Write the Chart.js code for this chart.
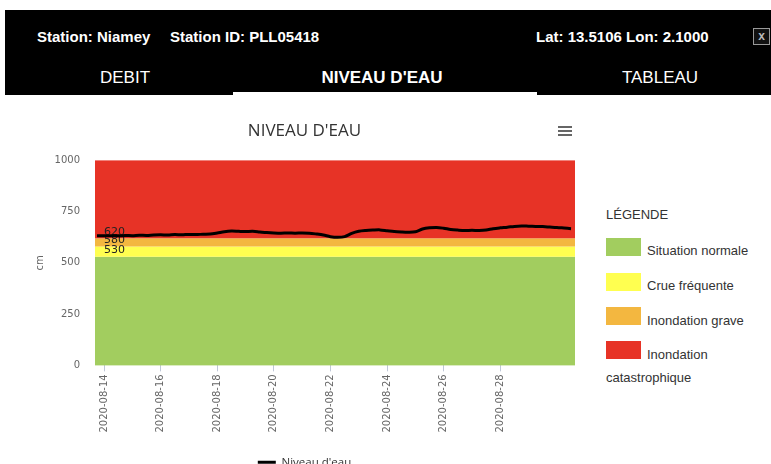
<!DOCTYPE html>
<html>
<head>
<meta charset="utf-8">
<script src="https://cdn.jsdelivr.net/npm/chart.js@4"></script>
<style>
  body { margin: 0; width: 771px; height: 464px; overflow: hidden; background: #fff; font-family: "Liberation Sans", Arial, sans-serif; }
  .bar { position: absolute; left: 5px; top: 10px; width: 766px; height: 85px; background: #000; }
  .hd { position: absolute; top: 28px; color: #fff; font-weight: bold; font-size: 15px; }
  .tab { position: absolute; top: 68px; color: #fff; font-size: 17px; transform: translateX(-50%); white-space: nowrap; }
  .active { position: absolute; left: 233px; top: 92px; width: 304px; height: 4px; background: #fff; }
  .close { position: absolute; left: 753px; top: 28px; width: 15px; height: 15px; border: 1px solid #999; color: #bbb; background: #111; font-size: 12px; font-weight: bold; line-height: 15px; text-align: center; }
  .menu { position: absolute; left: 558px; width: 14px; height: 2px; background: #666; }
  #wrap { position: absolute; left: 0; top: 100px; width: 604px; height: 378px; }
  .leg { position: absolute; left: 606px; color: #333; font-size: 13px; }
  .sw { position: absolute; left: 606px; width: 35px; height: 18px; }
</style>
</head>
<body>
<div class="bar"></div>
<div class="hd" style="left:37px">Station: Niamey</div>
<div class="hd" style="left:170px">Station ID: PLL05418</div>
<div class="hd" style="left:536px">Lat: 13.5106 Lon: 2.1000</div>
<div class="close">x</div>
<div class="tab" style="left:125px">DEBIT</div>
<div class="tab" style="left:382px;font-weight:bold">NIVEAU D'EAU</div>
<div class="tab" style="left:660px">TABLEAU</div>
<div class="active"></div>

<div class="menu" style="top:126px"></div>
<div class="menu" style="top:130px"></div>
<div class="menu" style="top:134px"></div>

<div id="wrap"><canvas id="myChart"></canvas></div>

<div class="leg" style="top:207px">LÉGENDE</div>
<div class="sw" style="top:238px;background:#a2cd5f"></div>
<div class="leg" style="top:243px;left:647px">Situation normale</div>
<div class="sw" style="top:273px;background:#ffff50"></div>
<div class="leg" style="top:278px;left:647px">Crue fréquente</div>
<div class="sw" style="top:307px;background:#f3b740"></div>
<div class="leg" style="top:313px;left:647px">Inondation grave</div>
<div class="sw" style="top:341px;background:#e73326"></div>
<div class="leg" style="top:347px;left:647px">Inondation</div>
<div class="leg" style="top:370px">catastrophique</div>

<script>
// days since 2020-08-14 00:00, one reading every 6 hours
const dayOffsets = [-0.25, 0, 0.25, 0.5, 0.75, 1, 1.25, 1.5, 1.75, 2, 2.25, 2.5, 2.75, 3, 3.25, 3.5, 3.75,
  4, 4.25, 4.5, 4.75, 5, 5.25, 5.5, 5.75, 6, 6.25, 6.5, 6.75, 7, 7.25, 7.5, 7.75,
  8, 8.25, 8.5, 8.75, 9, 9.25, 9.5, 9.75, 10, 10.25, 10.5, 10.75, 11, 11.25, 11.5, 11.75,
  12, 12.25, 12.5, 12.75, 13, 13.25, 13.5, 13.75, 14, 14.25, 14.5, 14.75, 15, 15.25, 15.5, 15.75,
  16, 16.25, 16.5];
const niveau = [632, 632, 633, 632, 634, 633, 635, 634, 636, 637, 636, 638, 637, 639, 638, 640, 641,
  646, 652, 655, 654, 653, 654, 651, 648, 646, 645, 646, 645, 646, 645, 641, 636,
  628, 625, 628, 644, 654, 658, 660, 661, 657, 653, 651, 650, 652, 665, 671, 673,
  669, 663, 660, 658, 659, 658, 660, 667, 671, 674, 678, 680, 679, 678, 677, 675,
  673, 670, 667];

const tickDays = [0, 2, 4, 6, 8, 10, 12, 14];
const tickLabels = ['2020-08-14', '2020-08-16', '2020-08-18', '2020-08-20', '2020-08-22', '2020-08-24', '2020-08-26', '2020-08-28'];

const bandLimits = [0, 530, 580, 620, 1000];
const bandColors = ['#a2cd5f', '#ffff50', '#f3b740', '#e73326'];
const bandLabels = ['530', '580', '620'];

const bands = {
  id: 'bands',
  beforeDatasetsDraw(chart) {
    const { ctx, chartArea: a, scales: { y } } = chart;
    ctx.save();
    for (let i = 0; i < bandColors.length; i++) {
      const top = y.getPixelForValue(bandLimits[i + 1]);
      const bot = y.getPixelForValue(bandLimits[i]);
      ctx.fillStyle = bandColors[i];
      ctx.fillRect(a.left, top, a.right - a.left, bot - top);
    }
    ctx.fillStyle = '#222';
    ctx.font = '11px "DejaVu Sans"';
    ctx.textBaseline = 'bottom';
    for (let i = 0; i < bandLabels.length; i++) {
      ctx.fillText(bandLabels[i], a.left + 9, y.getPixelForValue(bandLimits[i + 1]) - 1);
    }
    ctx.restore();
  }
};

const ctx = document.getElementById('myChart').getContext('2d');
const myChart = new Chart(ctx, {
  type: 'line',
  data: {
    datasets: [{
      label: "Niveau d'eau",
      data: dayOffsets.map((d, i) => ({ x: d, y: niveau[i] })),
      borderColor: '#000',
      backgroundColor: '#000',
      borderWidth: 3,
      pointRadius: 0,
      pointStyle: 'line',
      tension: 0.3
    }]
  },
  options: {
    responsive: true,
    maintainAspectRatio: false,
    animation: false,
    layout: { padding: { left: 34, right: 29, bottom: 0 } },
    plugins: {
      title: {
        display: true,
        text: "NIVEAU D'EAU",
        color: '#333',
        font: { family: '"Open Sans"', size: 17, weight: 'normal' },
        padding: { top: 21, bottom: 19 }
      },
      legend: {
        position: 'bottom',
        labels: {
          color: '#333',
          font: { family: '"Open Sans"', size: 11.5 },
          usePointStyle: true,
          pointStyleWidth: 18,
          boxHeight: 6,
          padding: 10
        }
      },
      tooltip: { enabled: false }
    },
    scales: {
      x: {
        type: 'linear',
        min: -0.32,
        max: 16.64,
        afterBuildTicks: (axis) => { axis.ticks = tickDays.map(v => ({ value: v })); },
        afterFit: (axis) => { axis.height = axis.height + 11; },
        ticks: {
          minRotation: 90,
          maxRotation: 90,
          color: '#666',
          font: { family: '"DejaVu Sans"', size: 10 },
          callback: (v) => tickLabels[tickDays.indexOf(v)]
        },
        grid: { drawOnChartArea: false, drawTicks: true, tickLength: 6, color: '#c0c8d8' },
        border: { display: false }
      },
      y: {
        min: 0,
        max: 1000,
        afterFit: (axis) => { axis.width = 61; },
        ticks: {
          stepSize: 250,
          color: '#666',
          padding: 15,
          font: { family: '"DejaVu Sans"', size: 10 },
          callback: (v) => String(v)
        },
        grid: { display: false, drawTicks: false },
        border: { display: false },
        title: { display: true, text: 'cm', color: '#666', padding: 0, font: { family: '"DejaVu Sans"', size: 10 } }
      }
    }
  },
  plugins: [bands]
});
</script>
</body>
</html>
